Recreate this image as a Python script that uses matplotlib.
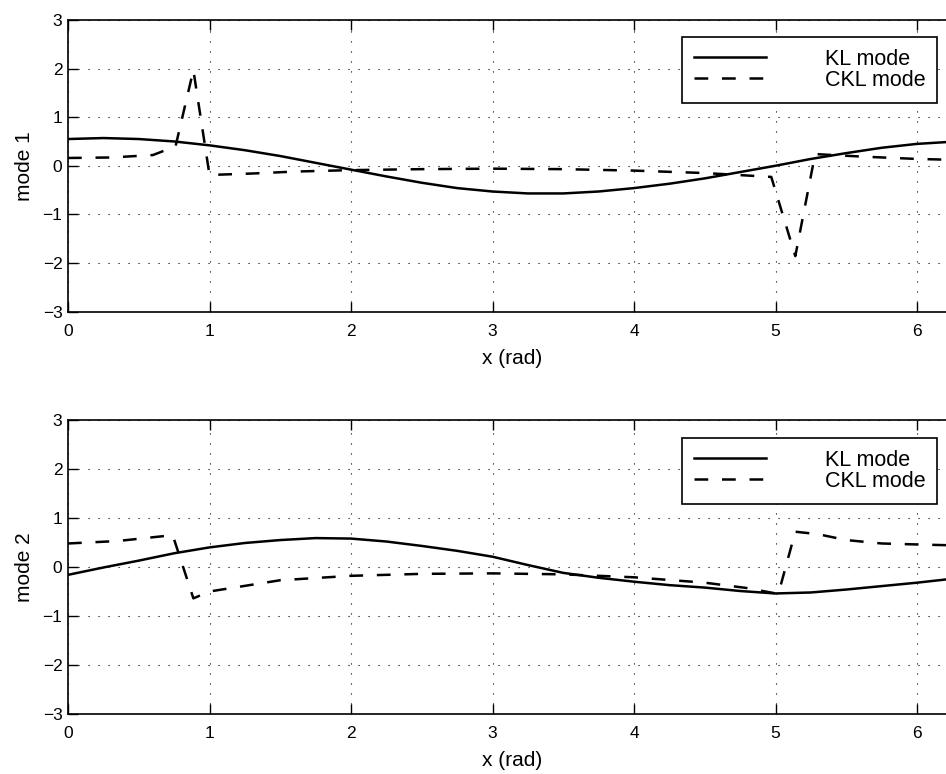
import numpy as np
import matplotlib
matplotlib.use("Agg")
import matplotlib.pyplot as plt

plt.rcParams["font.family"] = ["Liberation Sans", "DejaVu Sans"]

# KL modes (smooth), sampled every 0.25 rad
x_kl = [0, 0.25, 0.5, 0.75, 1.0, 1.25, 1.5, 1.75, 2.0, 2.25, 2.5, 2.75, 3.0,
        3.25, 3.5, 3.75, 4.0, 4.25, 4.5, 4.75, 5.0, 5.25, 5.5, 5.75, 6.0, 6.28]
kl_mode1 = [0.55, 0.57, 0.55, 0.50, 0.42, 0.32, 0.20, 0.06, -0.08, -0.22, -0.35,
            -0.46, -0.53, -0.57, -0.57, -0.53, -0.46, -0.37, -0.26, -0.13, 0.0,
            0.14, 0.26, 0.37, 0.45, 0.50]
kl_mode2 = [-0.16, -0.01, 0.13, 0.28, 0.40, 0.49, 0.55, 0.59, 0.58, 0.52, 0.43,
            0.33, 0.21, 0.04, -0.12, -0.22, -0.30, -0.37, -0.42, -0.49, -0.54,
            -0.52, -0.46, -0.39, -0.32, -0.23]

# CKL modes (piecewise)
x_ckl1 = [0, 0.3, 0.6, 0.76, 0.886, 1.0, 1.3, 1.6, 2.0, 2.5, 3.0, 3.5, 4.0,
          4.5, 4.97, 5.14, 5.28, 5.6, 6.0, 6.28]
ckl_mode1 = [0.16, 0.17, 0.22, 0.40, 1.97, -0.19, -0.16, -0.12, -0.09, -0.07,
             -0.06, -0.07, -0.10, -0.15, -0.23, -1.86, 0.24, 0.19, 0.14, 0.12]
x_ckl2 = [0, 0.35, 0.74, 0.886, 1.0, 1.5, 2.0, 2.5, 3.0, 3.5, 4.0, 4.5, 4.8,
          5.02, 5.14, 5.3, 5.5, 5.75, 6.0, 6.28]
ckl_mode2 = [0.48, 0.53, 0.65, -0.64, -0.50, -0.27, -0.18, -0.14, -0.13, -0.15,
             -0.21, -0.32, -0.43, -0.55, 0.72, 0.67, 0.55, 0.48, 0.46, 0.44]

fig = plt.figure(figsize=(9.46, 7.74), dpi=100)
W, H = 946, 774
left = 68 / W
width = (2 * np.pi * 141.5) / W

panels = [
    (kl_mode1, x_ckl1, ckl_mode1, "mode 1", 20, 311.5, 37),
    (kl_mode2, x_ckl2, ckl_mode2, "mode 2", 420, 714, 438),
]

for kl, xc, ckl, ylab, top_px, bot_px, leg_px in panels:
    ax = fig.add_axes([left, 1 - bot_px / H, width, (bot_px - top_px) / H])
    ax.plot(x_kl, kl, color="black", lw=1.8, label="KL mode")
    ax.plot(xc, ckl, color="black", lw=1.8, dashes=(5.5, 5.5), label="CKL mode")
    ax.set_xlim(0, 2 * np.pi)
    ax.set_ylim(-3, 3)
    ax.set_xticks(range(7))
    ax.set_yticks(range(-3, 4))
    ax.set_yticklabels(["\u22123", "\u22122", "\u22121", "0", "1", "2", "3"])
    ax.grid(True, color="black", linestyle=(0, (1, 8)), lw=0.8)
    ax.tick_params(direction="in", length=7, width=1, top=True, labelsize=12.5)
    ax.tick_params(axis="x", pad=9)
    ax.tick_params(axis="y", pad=4)
    for s in ax.spines.values():
        s.set_linewidth(1.2)
    ax.set_xlabel("x (rad)", fontsize=15, labelpad=7)
    ax.set_ylabel(ylab, fontsize=15, labelpad=6)
    leg = ax.legend(loc="upper right", bbox_to_anchor=(937 / W, 1 - leg_px / H),
                    bbox_transform=fig.transFigure, borderaxespad=0,
                    fancybox=False, edgecolor="black", framealpha=1,
                    fontsize=15.5, handlelength=3.35, handletextpad=2.7,
                    labelspacing=0.0, borderpad=0.55)
    leg.get_frame().set_linewidth(1.2)

fig.savefig("out.png", dpi=100)
